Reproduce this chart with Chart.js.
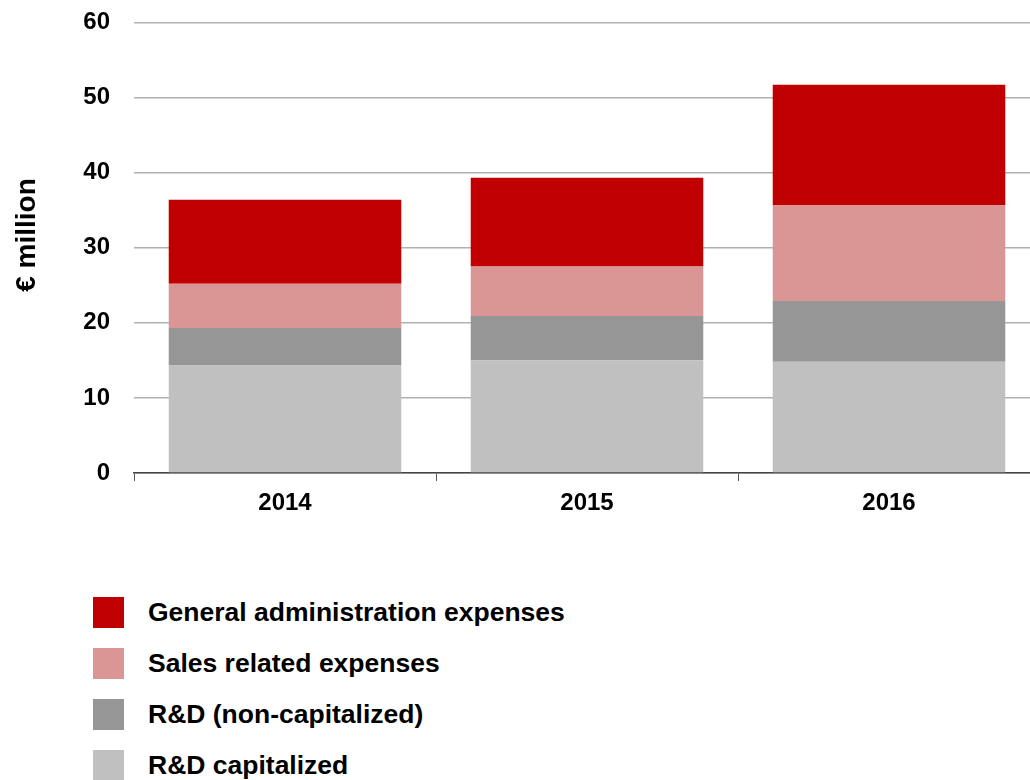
<!DOCTYPE html>
<html>
<head>
<meta charset="utf-8">
<script src="https://cdn.jsdelivr.net/npm/chart.js@4"></script>
<style>
    body { margin: 0; background: #fff; overflow: hidden; width: 1030px; height: 780px; font-family: "Liberation Sans", Arial, sans-serif; }
    #chartWrap { position: absolute; left: 0; top: -16px; width: 1040px; height: 546px; }
    #yTitle { position: absolute; left: -74px; top: 221px; width: 200px; line-height: 28px; text-align: center;
              font-weight: bold; font-size: 28px; color: #000; transform: rotate(-90deg); white-space: nowrap; }
    #legend { position: absolute; left: 93px; top: 597px; }
    .legend-row { display: flex; align-items: center; height: 31px; margin-bottom: 20px; }
    .legend-box { width: 31px; height: 31px; margin-right: 24px; }
    .legend-text { font-weight: bold; font-size: 26.5px; color: #000; }
</style>
</head>
<body>
<div id="chartWrap"><canvas id="costChart"></canvas></div>
<div id="yTitle">€ million</div>
<div id="legend"></div>
<script>
const years = ['2014', '2015', '2016'];
const rdCapitalized = [14.3, 15.0, 14.8];
const rdNonCapitalized = [5.0, 5.9, 8.1];
const salesExpenses = [5.9, 6.6, 12.8];
const generalAdmin = [11.2, 11.8, 16.0];
const yTicks = [0, 10, 20, 30, 40, 50, 60];

const seriesList = [
    { label: 'R&D capitalized', data: rdCapitalized, color: '#c0c0c0' },
    { label: 'R&D (non-capitalized)', data: rdNonCapitalized, color: '#969696' },
    { label: 'Sales related expenses', data: salesExpenses, color: '#da9694' },
    { label: 'General administration expenses', data: generalAdmin, color: '#c00000' }
];

const tickFont = { family: '"Liberation Sans", Arial, sans-serif', size: 24, weight: 'bold' };

const ctx = document.getElementById('costChart').getContext('2d');
new Chart(ctx, {
    type: 'bar',
    data: {
        labels: years,
        datasets: seriesList.map(s => ({
            label: s.label,
            data: s.data,
            backgroundColor: s.color,
            borderWidth: 0,
            categoryPercentage: 1,
            barPercentage: 0.77
        }))
    },
    options: {
        responsive: true,
        maintainAspectRatio: false,
        animation: false,
        layout: { padding: 0 },
        plugins: { legend: { display: false }, tooltip: { enabled: false } },
        scales: {
            x: {
                stacked: true,
                grid: { display: true, drawOnChartArea: false, tickLength: 8, color: '#555', offset: true },
                border: { display: true, color: '#444', width: 1.5 },
                ticks: { color: '#000', font: tickFont, padding: 8 },
                afterFit: scale => { scale.height = 57; }
            },
            y: {
                stacked: true,
                min: 0,
                max: 60,
                afterBuildTicks: scale => { scale.ticks = yTicks.map(v => ({ value: v })); },
                grid: { color: '#b0b0b0', lineWidth: 1.5, drawTicks: false },
                border: { display: false },
                ticks: { color: '#000', font: tickFont, padding: 24 },
                afterFit: scale => { scale.width = 134; }
            }
        }
    }
});

// legend, top series first
const legendEl = document.getElementById('legend');
seriesList.slice().reverse().forEach(s => {
    legendEl.innerHTML += `<div class="legend-row"><div class="legend-box" style="background:${s.color}"></div><div class="legend-text">${s.label}</div></div>`;
});
</script>
</body>
</html>
